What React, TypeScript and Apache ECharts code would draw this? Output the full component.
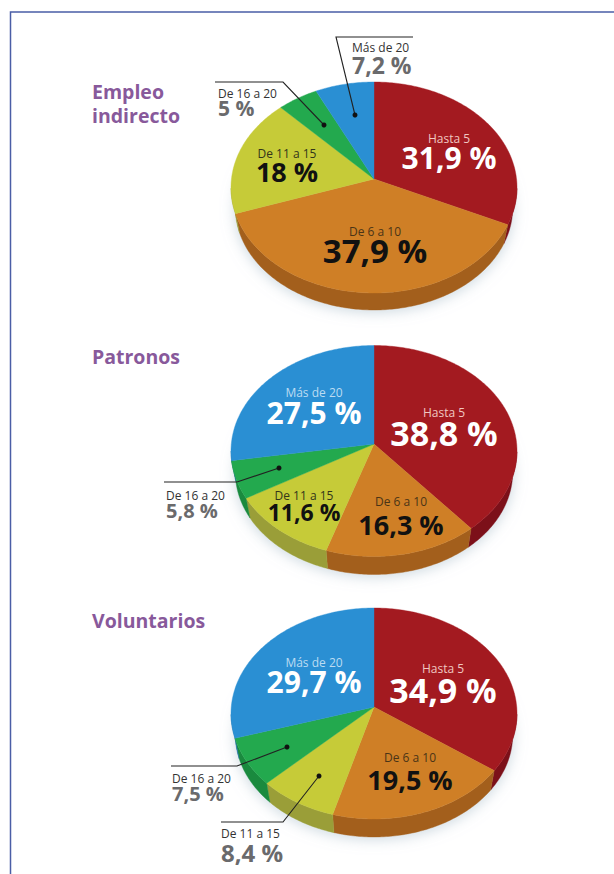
import React, { useEffect, useRef } from "react";
import * as echarts from "echarts";

const categories = ["Hasta 5", "De 6 a 10", "De 11 a 15", "De 16 a 20", "Más de 20"];
const empleoIndirecto = [31.9, 37.9, 18, 5, 7.2];
const patronos = [38.8, 16.3, 11.6, 5.8, 27.5];
const voluntarios = [34.9, 19.5, 8.4, 7.5, 29.7];

const faceColors = ["#a31a20", "#cf7f26", "#c6cb38", "#23a94e", "#2a8fd3"];
const sideColors = ["#7c1019", "#a35f1c", "#9a9e38", "#1a8a3e", "#1f6ea8"];
const PURPLE = "#88599b";
const GREY = "#6a6a6c";
const FONT = "'Open Sans', 'Noto Sans', sans-serif";

type Lay = { x: number; y: number; c: string; lc: string; s: number; a?: "left" | "center"; dy?: number };

// Each pie's geometry: apex of the slices, centre of the (perspective) rim, wall height.
const pies = [
  { values: empleoIndirecto, ax: 374, ay: 179, cy: 187.5, depth: 17 },
  { values: patronos, ax: 374, ay: 444, cy: 451, depth: 18 },
  { values: voluntarios, ax: 374, ay: 707, cy: 713.5, depth: 18 },
];
const RX = 143;
const RY = 105.5;
const BOTTOM_SCALE = 0.97;

const labelLayouts: Lay[][] = [
  [
    { x: 449, y: 157, c: "#ffffff", lc: "#f0c8c0", s: 30, dy: -19 },
    { x: 375, y: 250, c: "#111111", lc: "#4a3416", s: 33, dy: -19 },
    { x: 287, y: 171, c: "#111111", lc: "#33351a", s: 27, dy: -18 },
    { x: 218, y: 108, c: GREY, lc: "#333333", s: 21, a: "left", dy: -15 },
    { x: 352, y: 65, c: GREY, lc: "#333333", s: 23, a: "left", dy: -18 },
  ],
  [
    { x: 444, y: 433, c: "#ffffff", lc: "#f0c8c0", s: 34, dy: -21 },
    { x: 401, y: 524, c: "#111111", lc: "#4a3416", s: 27, dy: -23 },
    { x: 304, y: 512, c: "#111111", lc: "#33351a", s: 23, dy: -17 },
    { x: 166, y: 510, c: GREY, lc: "#333333", s: 20, a: "left", dy: -15 },
    { x: 314, y: 412, c: "#ffffff", lc: "#bcdcf2", s: 30, dy: -20 },
  ],
  [
    { x: 443, y: 690, c: "#ffffff", lc: "#f0c8c0", s: 34, dy: -22 },
    { x: 410, y: 779, c: "#111111", lc: "#4a3416", s: 27, dy: -22 },
    { x: 221, y: 852, c: GREY, lc: "#333333", s: 24, a: "left", dy: -19 },
    { x: 172, y: 793, c: GREY, lc: "#333333", s: 20, a: "left", dy: -15 },
    { x: 314, y: 681, c: "#ffffff", lc: "#bcdcf2", s: 30, dy: -19 },
  ],
];

const titles = [
  { t: "Empleo", y: 91 },
  { t: "indirecto", y: 115 },
  { t: "Patronos", y: 356 },
  { t: "Voluntarios", y: 620 },
];

// Leader lines: polyline then a dot at its end.
const leaders = [
  [[215, 82], [283, 82], [324, 125]],
  [[413, 37], [336, 37], [355, 115]],
  [[164, 482], [237, 482], [279, 468]],
  [[171, 766], [237, 766], [287, 747]],
  [[221, 822], [283, 822], [319, 776]],
];

// Where the ray from the apex at pie angle th (clockwise from the top) meets the rim.
function rimPoint(p: (typeof pies)[number], th: number): number[] {
  const dx = Math.sin(th) * RX;
  const dy = -Math.cos(th) * RY;
  const oy = p.ay - p.cy;
  const A = (dx * dx) / (RX * RX) + (dy * dy) / (RY * RY);
  const B = (2 * dy * oy) / (RY * RY);
  const C = (oy * oy) / (RY * RY) - 1;
  const t = (-B + Math.sqrt(B * B - 4 * A * C)) / (2 * A);
  return [p.ax + dx * t, p.ay + dy * t];
}

function makeRenderItem(p: (typeof pies)[number], part: "wall" | "face") {
  const total = p.values.reduce((a, b) => a + b, 0);
  return (params: any, api: any) => {
    const i = params.dataIndex;
    const before = p.values.slice(0, i).reduce((a, b) => a + b, 0);
    const a0 = (before / total) * Math.PI * 2;
    const a1 = ((before + api.value(1)) / total) * Math.PI * 2;
    const n = Math.max(4, Math.ceil((a1 - a0) / 0.015));
    const rim: number[][] = [];
    for (let k = 0; k <= n; k++) rim.push(rimPoint(p, a0 + ((a1 - a0) * k) / n));
    if (part === "face") {
      return {
        type: "polygon",
        shape: { points: [[p.ax, p.ay], ...rim] },
        style: { fill: faceColors[i], stroke: faceColors[i], lineWidth: 0.4 },
      };
    }
    const low = rim.filter((q) => q[1] >= p.cy);
    if (low.length < 2) return { type: "group", children: [] };
    const drop = p.depth + RY * (1 - BOTTOM_SCALE);
    const base = low
      .slice()
      .reverse()
      .map((q) => [
        p.ax + (q[0] - p.ax) * BOTTOM_SCALE,
        p.cy + (q[1] - p.cy) * BOTTOM_SCALE + drop,
      ]);
    return {
      type: "polygon",
      shape: { points: [...low, ...base] },
      style: { fill: sideColors[i], stroke: sideColors[i], lineWidth: 0.4 },
    };
  };
}

function text(x: number, y: number, t: string, s: number, fill: string, weight: any, align = "center") {
  return {
    type: "text",
    x,
    y,
    z: 20,
    style: { text: t, fill, font: `${weight} ${s}px ${FONT}`, textAlign: align, textVerticalAlign: "middle" },
  };
}

export default function App() {
  const ref = useRef<HTMLDivElement>(null);
  useEffect(() => {
    const chart = echarts.init(ref.current!, undefined, { renderer: "svg" });
    const graphic: any[] = [
      {
        type: "polyline",
        z: 1,
        shape: { points: [[10.5, 874], [10.5, 12], [614, 12]] },
        style: { fill: "none", stroke: "#4a5ea6", lineWidth: 1.5 },
      },
    ];
    pies.forEach((p) => {
      graphic.push({
        type: "ellipse",
        z: 1,
        shape: { cx: p.ax, cy: p.cy + p.depth + 5, rx: RX - 4, ry: RY - 3 },
        style: { fill: "#e4ebf0", shadowBlur: 14, shadowColor: "rgba(190,205,215,0.8)" },
      });
    });
    titles.forEach((t) => graphic.push(text(92, t.y, t.t, 19.5, PURPLE, 700, "left")));
    pies.forEach((p, pi) => {
      p.values.forEach((v, i) => {
        const l = labelLayouts[pi][i];
        const align = l.a || "center";
        graphic.push(text(l.x, l.y, `${String(v).replace(".", ",")} %`, l.s, l.c, 700, align));
        graphic.push(text(l.x, l.y + (l.dy || -18), categories[i], 12, l.lc, 400, align));
      });
    });
    leaders.forEach((pts) => {
      graphic.push({
        type: "polyline",
        z: 15,
        shape: { points: pts },
        style: { fill: "none", stroke: "#222222", lineWidth: 1.1 },
      });
      const e = pts[pts.length - 1];
      graphic.push({ type: "circle", z: 15, shape: { cx: e[0], cy: e[1], r: 2.5 }, style: { fill: "#111111" } });
    });
    const series: any[] = [];
    pies.forEach((p) => {
      (["wall", "face"] as const).forEach((part) => {
        series.push({
          type: "custom",
          coordinateSystem: "none",
          renderItem: makeRenderItem(p, part),
          data: p.values.map((v, i) => ({ name: categories[i], value: [i, v] })),
          silent: true,
        });
      });
    });
    chart.setOption({ animation: false, backgroundColor: "#ffffff", graphic, series });
    return () => chart.dispose();
  }, []);
  return <div ref={ref} style={{ position: "absolute", left: 0, top: 0, width: 614, height: 874 }} />;
}
